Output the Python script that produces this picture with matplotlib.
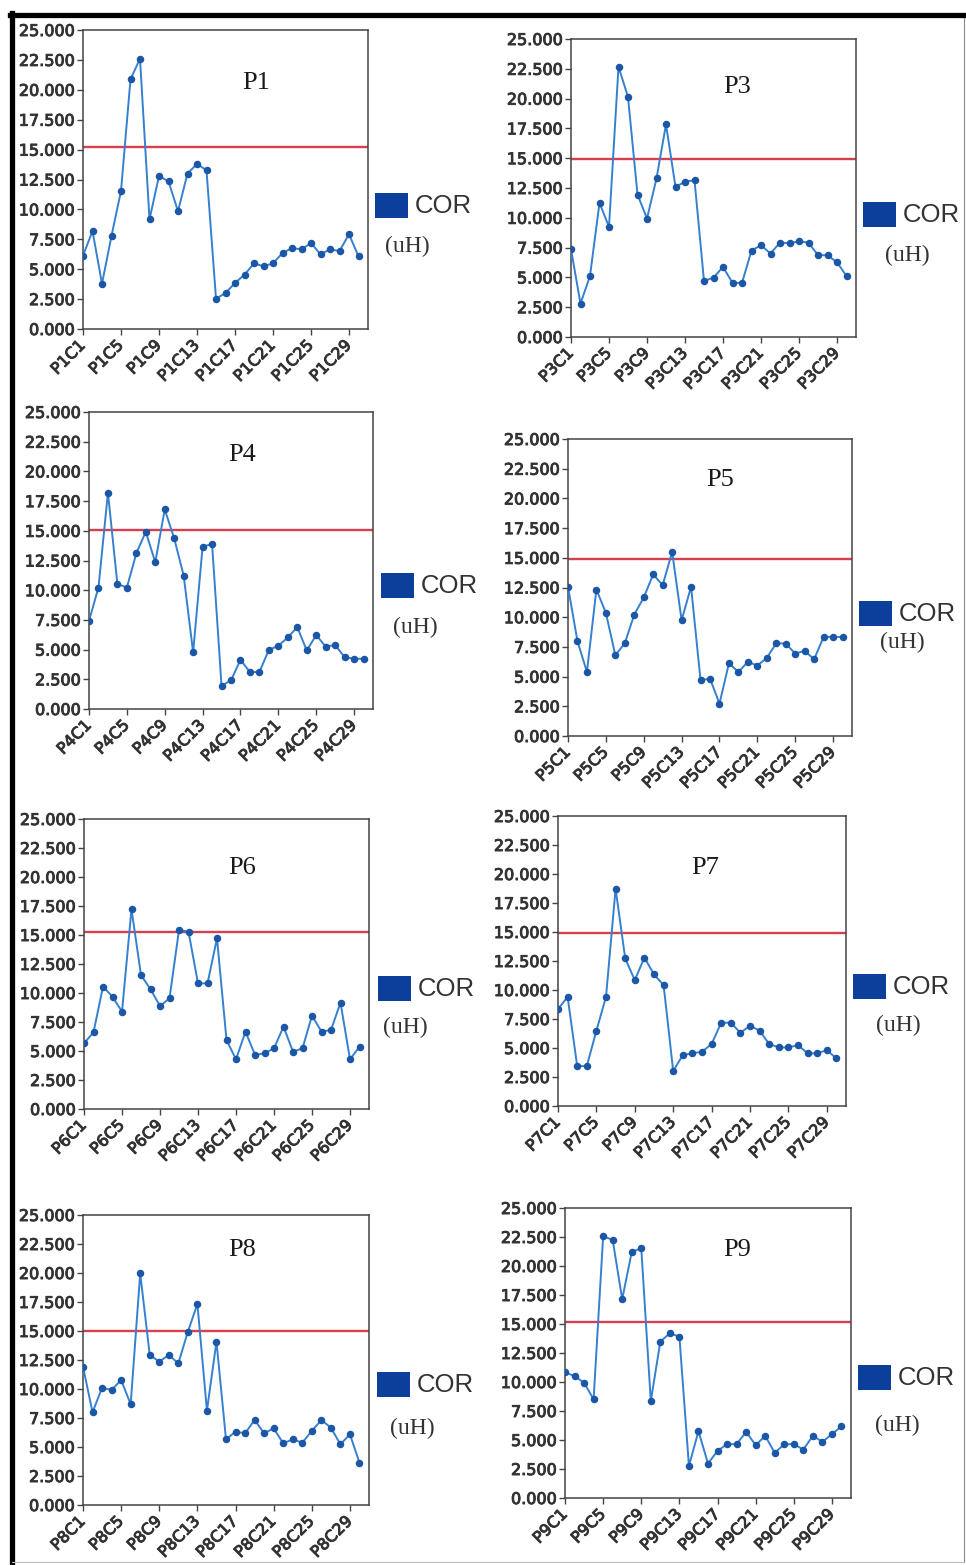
import numpy as np
import matplotlib.pyplot as plt
import matplotlib.patheffects as pe
from matplotlib.patches import Rectangle
from matplotlib.lines import Line2D

# COR (uH) por ponto, C1..C30 -------------------------------------------

pontos = ["P1", "P3", "P4", "P5", "P6", "P7", "P8", "P9"]

p1 = [6.13, 8.19, 3.79, 7.78, 11.54, 20.88, 22.6, 9.17, 12.79, 12.35,
      9.84, 13.0, 13.8, 13.27, 2.54, 3.0, 3.85, 4.54, 5.49, 5.24,
      5.49, 6.35, 6.77, 6.66, 7.19, 6.24, 6.66, 6.52, 7.92, 6.08]
p3 = [7.36, 2.8, 5.12, 11.25, 9.24, 22.68, 20.13, 11.95, 9.94, 13.3,
      17.83, 12.6, 13.02, 13.16, 4.7, 4.98, 5.88, 4.54, 4.54, 7.25,
      7.7, 7.0, 7.92, 7.87, 8.03, 7.92, 6.86, 6.86, 6.27, 5.12]
p4 = [7.42, 10.22, 18.2, 10.53, 10.22, 13.1, 14.92, 12.35, 16.8, 14.36,
      11.23, 4.76, 13.66, 13.89, 1.96, 2.41, 4.14, 3.11, 3.11, 4.98,
      5.32, 6.02, 6.89, 4.93, 6.22, 5.26, 5.38, 4.37, 4.23, 4.23]
p5 = [12.56, 7.98, 5.39, 12.33, 10.37, 6.8, 7.81, 10.22, 11.66, 13.6,
      12.7, 15.5, 9.75, 12.56, 4.69, 4.83, 2.72, 6.12, 5.39, 6.24,
      5.93, 6.57, 7.81, 7.78, 6.94, 7.16, 6.46, 8.34, 8.34, 8.34]
p6 = [5.66, 6.61, 10.55, 9.68, 8.39, 17.21, 11.55, 10.32, 8.88, 9.54,
      15.43, 15.29, 10.83, 10.83, 14.71, 5.95, 4.28, 6.67, 4.66, 4.8,
      5.23, 7.1, 4.94, 5.23, 8.05, 6.67, 6.81, 9.17, 4.28, 5.37]
p7 = [8.35, 9.41, 3.44, 3.44, 6.49, 9.41, 18.74, 12.72, 10.85, 12.8,
      11.34, 10.42, 3.01, 4.39, 4.54, 4.68, 5.34, 7.18, 7.18, 6.31,
      6.92, 6.49, 5.34, 5.05, 5.05, 5.25, 4.54, 4.54, 4.82, 4.1]
p8 = [11.93, 7.99, 10.11, 9.91, 10.78, 8.68, 19.97, 12.93, 12.36, 12.93,
      12.21, 14.94, 17.33, 8.13, 14.08, 5.66, 6.32, 6.18, 7.33, 6.18,
      6.61, 5.32, 5.66, 5.37, 6.38, 7.33, 6.67, 5.23, 6.09, 3.65]
p9 = [10.83, 10.51, 9.94, 8.5, 22.55, 22.26, 17.14, 21.2, 21.54, 8.35,
      13.48, 14.2, 13.91, 2.76, 5.76, 2.97, 4.06, 4.64, 4.64, 5.7,
      4.55, 5.36, 3.89, 4.64, 4.64, 4.18, 5.36, 4.84, 5.5, 6.19]
series = [p1, p3, p4, p5, p6, p7, p8, p9]

# limite (linha vermelha) em cada ponto
limite = [15.2, 14.95, 15.06, 14.94, 15.26, 14.95, 15.0, 15.2]

ticks_y = [0, 2.5, 5, 7.5, 10, 12.5, 15, 17.5, 20, 22.5, 25]
ticks_c = [1, 5, 9, 13, 17, 21, 25, 29]

# Layout em pixels: (esq, topo, dir, base) do eixo, titulo (x, y),
# quadrado da legenda (x0, y0), "(uH)" (x, y)
W, H = 966, 1565
layout = [
    ((83, 30, 368, 329), (256, 83), (375, 193), (407, 246)),
    ((571, 39, 856, 337), (737, 87), (863, 202), (907, 255)),
    ((89, 412, 373, 709), (242, 455), (381, 573), (415, 627)),
    ((568, 439, 852, 736), (720, 480), (859, 601), (902, 642)),
    ((84, 819, 369, 1109), (242, 868), (378, 976), (405, 1027)),
    ((558, 816, 846, 1106), (705, 868), (853, 974), (898, 1025)),
    ((83, 1215, 369, 1505), (242, 1250), (377, 1372), (412, 1428)),
    ((565, 1208, 851, 1498), (737, 1250), (858, 1365), (897, 1425)),
]

fx = lambda x: x / W
fy = lambda y: 1 - y / H

fig = plt.figure(figsize=(9.66, 15.65), dpi=100)
fig.patch.set_facecolor("white")

cor_linha = "#3580cf"
cor_marc = "#1b57a6"
cor_leg = "#0c3f9c"
cor_txt = "#333333"
grosso = [pe.withStroke(linewidth=0.7, foreground=cor_txt)]

for nome, vals, lim, (caixa, tit, quad, uh) in zip(pontos, series, limite, layout):
    x0, y0, x1, y1 = caixa
    ax = fig.add_axes([fx(x0), fy(y1), fx(x1 - x0), (y1 - y0) / H])
    x = np.arange(1, len(vals) + 1)
    ax.plot(x, vals, color=cor_linha, lw=1.4, marker="o", ms=4.4,
            mfc=cor_marc, mec=cor_marc, zorder=3)
    ax.axhline(lim, color="#d6404e", lw=1.7, zorder=2)
    ax.set_xlim(1, 31)
    ax.set_ylim(0, 25)
    ax.set_yticks(ticks_y)
    ax.set_yticklabels(["%.3f" % t for t in ticks_y])
    ax.set_xticks(ticks_c)
    ax.set_xticklabels(["%sC%d" % (nome, c) for c in ticks_c],
                       rotation=45, ha="right", va="center",
                       rotation_mode="anchor")
    ax.tick_params(axis="both", direction="out", length=4, width=1,
                   color="#444444", labelcolor=cor_txt, labelsize=11.5)
    ax.tick_params(axis="y", pad=2)
    ax.tick_params(axis="x", pad=6)
    for lab in ax.get_xticklabels() + ax.get_yticklabels():
        lab.set_path_effects(grosso)
    for s in ax.spines.values():
        s.set_color("#444444")
        s.set_linewidth(1.1)

    # titulo do ponto
    fig.text(fx(tit[0]), fy(tit[1]), nome, ha="center", va="center",
             family="Liberation Serif", fontsize=19, color="#1a1a1a")

    # legenda: quadrado + COR + (uH)
    qx, qy = quad
    fig.patches.append(Rectangle((fx(qx), fy(qy + 25)), 33 / W, 25 / H,
                                 transform=fig.transFigure,
                                 facecolor=cor_leg, edgecolor="none"))
    fig.text(fx(qx + 40), fy(qy + 13), "COR", ha="left", va="center",
             family="Liberation Sans", fontsize=18.5, color=cor_txt)
    fig.text(fx(uh[0]), fy(uh[1]), "(uH)", ha="center", va="center",
             family="Liberation Serif", fontsize=17, color=cor_txt)

# moldura da pagina
fig.add_artist(Line2D([fx(10), fx(966)], [fy(15), fy(15)], color="black",
                      lw=3.8, transform=fig.transFigure))
fig.add_artist(Line2D([fx(12), fx(12)], [fy(13), fy(1565)], color="black",
                      lw=3.8, transform=fig.transFigure))
fig.add_artist(Line2D([fx(964), fx(964)], [fy(18), fy(1562)], color="#888888",
                      lw=0.8, transform=fig.transFigure))
fig.add_artist(Line2D([fx(12), fx(964)], [fy(1562), fy(1562)], color="#bbbbbb",
                      lw=0.8, transform=fig.transFigure))

fig.savefig("out.png", dpi=100)
